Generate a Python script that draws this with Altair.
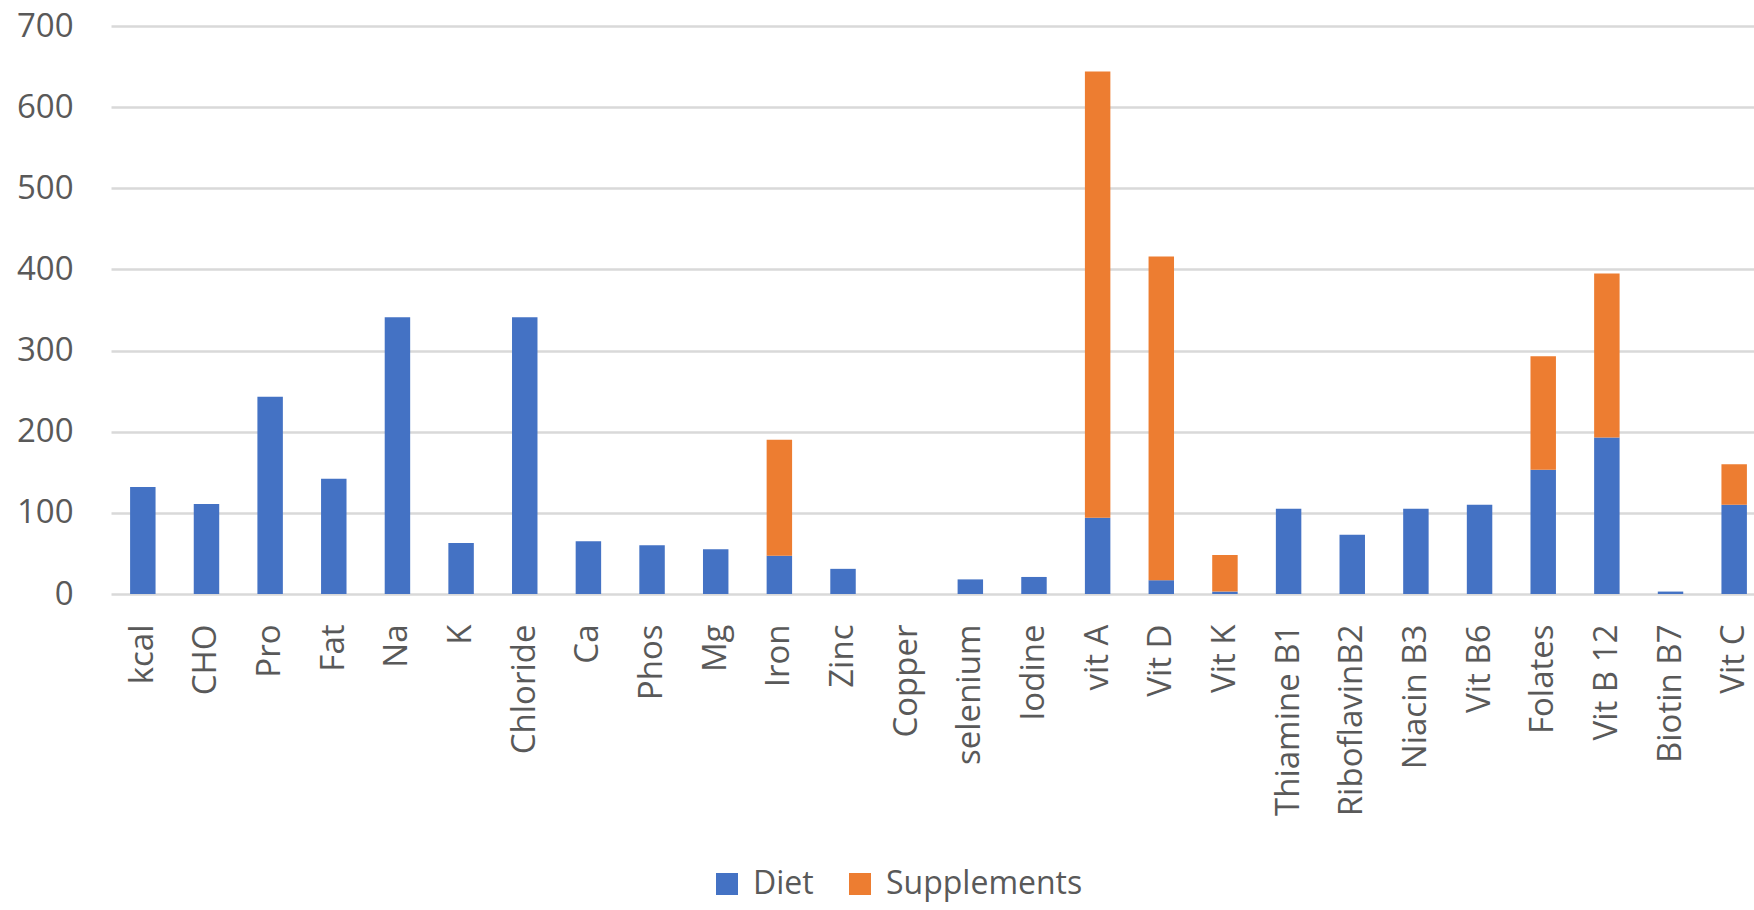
import altair as alt
import pandas as pd

categories = ["kcal", "CHO", "Pro", "Fat", "Na", "K", "Chloride", "Ca", "Phos", "Mg",
              "Iron", "Zinc", "Copper", "selenium", "Iodine", "vit A", "Vit D", "Vit K",
              "Thiamine B1", "RiboflavinB2", "Niacin B3", "Vit B6", "Folates", "Vit B 12",
              "Biotin B7", "Vit C"]
diet = [132, 111, 243, 142, 341, 63, 341, 65, 60, 55, 47, 31, 0, 18, 21, 94, 17, 3,
        105, 73, 105, 110, 153, 193, 3, 110]
supplements = [0, 0, 0, 0, 0, 0, 0, 0, 0, 0, 143, 0, 0, 0, 0, 550, 399, 45,
               0, 0, 0, 0, 140, 202, 0, 50]
series = ["Diet", "Supplements"]
colors = ["#4472C4", "#ED7D31"]
y_ticks = [0, 100, 200, 300, 400, 500, 600, 700]

rows = []
for i, c in enumerate(categories):
    rows.append({"cat": c, "series": "Diet", "value": diet[i], "ord": 0})
    rows.append({"cat": c, "series": "Supplements", "value": supplements[i], "ord": 1})
df = pd.DataFrame(rows)

FONT = "Open Sans"
GREY = "#595959"

chart = alt.Chart(df).mark_bar().encode(
    x=alt.X("cat:N", sort=categories, title=None,
            scale=alt.Scale(range=[0, 1655], paddingInner=0.6, paddingOuter=0.3),
            axis=alt.Axis(labelAngle=-90, labelFont=FONT, labelFontSize=33,
                          labelColor=GREY, ticks=False, domain=False, grid=False,
                          labelPadding=30, labelOverlap=False, labelLimit=0)),
    y=alt.Y("value:Q", stack="zero", title=None,
            scale=alt.Scale(domain=[0, 700], nice=False),
            axis=alt.Axis(values=y_ticks, labelFont=FONT, labelFontSize=33,
                          labelColor=GREY, ticks=False, domain=False,
                          labelPadding=38, gridColor="#d9d9d9", gridWidth=2.5)),
    color=alt.Color("series:N", scale=alt.Scale(domain=series, range=colors),
                    legend=alt.Legend(title=None, orient="none", direction="horizontal",
                                      legendX=600, legendY=842,
                                      symbolType="square", symbolSize=484,
                                      symbolStrokeWidth=0, labelFont=FONT,
                                      labelFontSize=32, labelColor=GREY, labelLimit=0,
                                      labelOffset=10, columnPadding=30)),
    order=alt.Order("ord:Q"),
).properties(
    width=1643, height=568,
    background="white",
    autosize=alt.AutoSizeParams(type="none"),
    padding={"left": 111, "top": 26, "right": 0, "bottom": 316},
).configure_view(stroke=None)

chart.save("out.html", embed_options={"renderer": "svg", "actions": False})
